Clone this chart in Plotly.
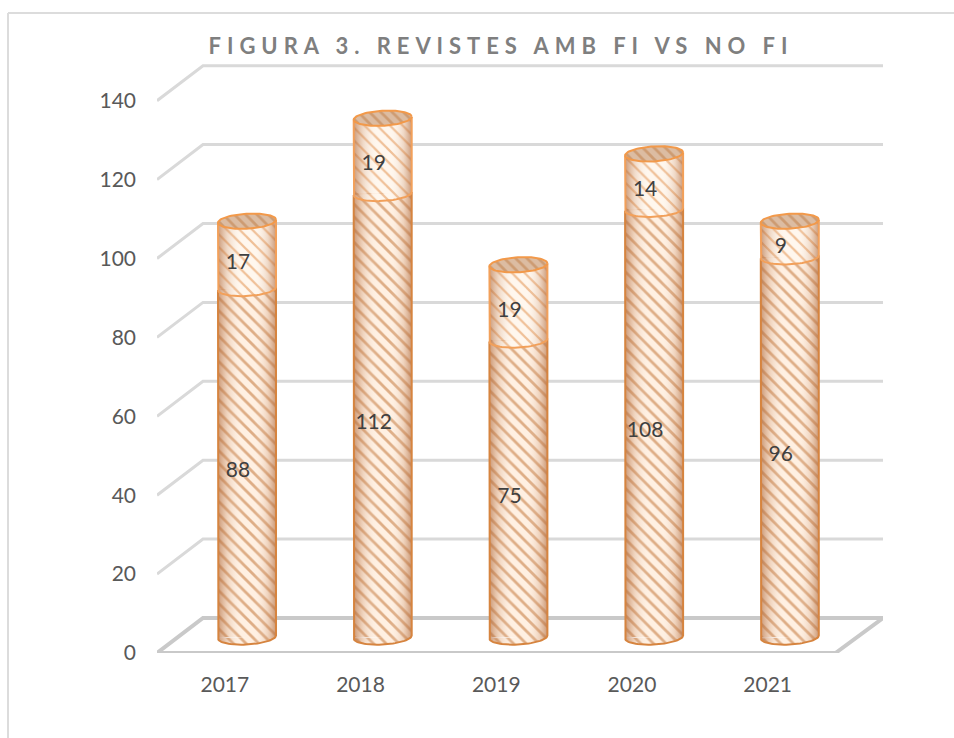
import numpy as np
import plotly.graph_objects as go

years = ["2017", "2018", "2019", "2020", "2021"]
amb_fi = [88, 112, 75, 108, 96]
no_fi = [17, 19, 19, 14, 9]
y_ticks = [0, 20, 40, 60, 80, 100, 120, 140]
title_text = "FIGURA 3. REVISTES AMB FI VS NO FI"

W, H = 954, 738
FONT = "Lato, 'Open Sans', sans-serif"
TXT = "#595959"
GRID = "#d9d9d9"
FLOOR = "#c9c9c9"

# geometry of the pseudo-3D box, in pixels
PX_L, PX_R = 157, 883       # horizontal extent of plot domain
PX_BOT, PX_TOP = 653, 58    # vertical extent of plot domain
X_STEP = 135.7
Y_SCALE = 3.945
BAR_Y_SCALE = 3.96
BACK_DX = 46 / X_STEP
BACK_DY = 35 / Y_SCALE
FRONT_R = 4.5
BAR_CX0, BAR_BASE_PX = 247, 637
BAR_W = 58 / X_STEP
RX = BAR_W / 2
RY = 7.5 / BAR_Y_SCALE
TILT = 1.5 / BAR_Y_SCALE
P_SIZE = 9

y_top = (PX_BOT - PX_TOP) / Y_SCALE
x_r_main = -0.5 + (PX_R - PX_L) / X_STEP
x2_l = (PX_L - BAR_CX0) / X_STEP
x2_r = (PX_R - BAR_CX0) / X_STEP
y2_l = -(PX_BOT - BAR_BASE_PX) / BAR_Y_SCALE
y2_t = y2_l + (PX_BOT - PX_TOP) / BAR_Y_SCALE

fig = go.Figure()

# walls and floor
for v in y_ticks[1:]:
    fig.add_trace(go.Scatter(
        x=[-0.5, -0.5 + BACK_DX, x_r_main], y=[v, v + BACK_DY, v + BACK_DY],
        mode="lines", line=dict(color=GRID, width=3), hoverinfo="skip", showlegend=False))
fig.add_trace(go.Scatter(
    x=[x_r_main, -0.5 + BACK_DX, -0.5, FRONT_R, x_r_main],
    y=[BACK_DY, BACK_DY, 0, 0, BACK_DY],
    mode="lines", line=dict(color=FLOOR, width=4), hoverinfo="skip", showlegend=False))

LOW_FG, LOW_BG, LOW_S = "#bd6a28", "#fff0e2", 0.31
UP_FG, UP_BG, UP_S = "#e0873e", "#fff7ee", 0.25

# cylinder bodies
fig.add_trace(go.Bar(
    x=list(range(5)), y=amb_fi, width=BAR_W, xaxis="x2", yaxis="y2", name="Amb FI",
    marker=dict(color=LOW_BG, line=dict(width=0),
                pattern=dict(shape="\\", fgcolor=LOW_FG, bgcolor=LOW_BG, size=P_SIZE, solidity=LOW_S)),
    showlegend=False))
fig.add_trace(go.Bar(
    x=list(range(5)), y=no_fi, width=BAR_W, xaxis="x2", yaxis="y2", name="No FI",
    marker=dict(color=UP_BG, line=dict(width=0),
                pattern=dict(shape="\\", fgcolor=UP_FG, bgcolor=UP_BG, size=P_SIZE, solidity=UP_S)),
    showlegend=False))

t_front = np.linspace(np.pi, 2 * np.pi, 40)
t_full = np.linspace(0, 2 * np.pi, 80)


def ring(cx, cy, t):
    return cx + RX * np.cos(t), cy + RY * np.sin(t) + TILT * np.cos(t)


def lens(i, v, fg, bg, sol):
    ax, ay = ring(i, v, t_front)
    fig.add_trace(go.Scatter(
        x=ax, y=ay, xaxis="x2", yaxis="y2", mode="lines", line=dict(width=0),
        fill="toself", fillcolor=bg, hoverinfo="skip", showlegend=False,
        fillpattern=dict(shape="\\", fgcolor=fg, bgcolor=bg, size=P_SIZE, solidity=sol)))


SHADE = [[0, "rgba(175,105,60,0.65)"], [0.16, "rgba(195,130,85,0.26)"], [0.42, "rgba(255,255,255,0)"],
         [0.62, "rgba(255,255,255,0)"], [0.86, "rgba(195,130,85,0.26)"], [1, "rgba(175,105,60,0.65)"]]

for i in range(5):
    low, total = amb_fi[i], amb_fi[i] + no_fi[i]
    lens(i, 0, LOW_FG, LOW_BG, LOW_S)
    lens(i, low, UP_FG, UP_BG, UP_S)
    # shading of the round body
    bx, by = ring(i, 0, t_front)
    tx, ty = ring(i, total, t_front[::-1])
    fig.add_trace(go.Scatter(
        x=np.r_[bx, tx], y=np.r_[by, ty], xaxis="x2", yaxis="y2", mode="lines", line=dict(width=0),
        fill="toself", hoverinfo="skip", showlegend=False,
        fillgradient=dict(type="horizontal", colorscale=SHADE)))
    # outline of lower part
    lx, ly = ring(i, low, t_front)
    fig.add_trace(go.Scatter(
        x=np.r_[lx[0], bx, lx[-1]], y=np.r_[ly[0], by, ly[-1]], xaxis="x2", yaxis="y2", mode="lines",
        line=dict(color="#d6843f", width=2), hoverinfo="skip", showlegend=False))
    # outline of upper part
    fig.add_trace(go.Scatter(
        x=np.r_[tx[-1], lx, tx[0]], y=np.r_[ty[-1], ly, ty[0]], xaxis="x2", yaxis="y2", mode="lines",
        line=dict(color="#f2a05a", width=2), hoverinfo="skip", showlegend=False))
    # top cap
    cx, cy = ring(i, total, t_full)
    fig.add_trace(go.Scatter(
        x=cx, y=cy, xaxis="x2", yaxis="y2", mode="lines", line=dict(color="#f2994a", width=2),
        fill="toself", fillcolor="#dcbca2", hoverinfo="skip", showlegend=False,
        fillpattern=dict(shape="\\", fgcolor="#bd7a42", bgcolor="#dcbca2", size=8, solidity=0.35)))

# value labels
LABEL_DX = -9 / X_STEP
LABEL_DY = -9 / BAR_Y_SCALE
lab_x, lab_y, lab_t = [], [], []
for i in range(5):
    lab_x += [i + LABEL_DX, i + LABEL_DX]
    lab_y += [amb_fi[i] / 2 + LABEL_DY, amb_fi[i] + no_fi[i] / 2 + LABEL_DY]
    lab_t += [str(amb_fi[i]), str(no_fi[i])]
fig.add_trace(go.Scatter(
    x=lab_x, y=lab_y, text=lab_t, xaxis="x2", yaxis="y2", mode="text",
    textposition="middle center", textfont=dict(family=FONT, size=21, color="#404040"),
    hoverinfo="skip", showlegend=False))

x_dom = [PX_L / W, PX_R / W]
y_dom = [1 - PX_BOT / H, 1 - PX_TOP / H]
fig.update_layout(
    width=W, height=H, margin=dict(l=0, r=0, t=0, b=0), autosize=False,
    paper_bgcolor="white", plot_bgcolor="rgba(0,0,0,0)", barmode="stack", showlegend=False,
    title=dict(text=title_text, x=501 / W, xanchor="center", y=1 - 46 / H, yanchor="middle",
               font=dict(family=FONT, size=22, color="#7f7f7f", weight="bold")),
    xaxis=dict(domain=x_dom, range=[-0.5, x_r_main], tickmode="array", tickvals=list(range(5)),
               ticktext=years, showgrid=False, zeroline=False, showline=False, ticks="", automargin=False,
               ticklabelstandoff=17, tickfont=dict(family=FONT, size=21, color=TXT), fixedrange=True),
    yaxis=dict(domain=y_dom, range=[0, y_top], tickmode="array", tickvals=y_ticks,
               showgrid=False, zeroline=False, showline=False, ticks="", automargin=False,
               ticklabelstandoff=20, tickfont=dict(family=FONT, size=21, color=TXT), fixedrange=True),
    xaxis2=dict(domain=x_dom, range=[x2_l, x2_r], overlaying="x", visible=False, fixedrange=True, anchor="y2"),
    yaxis2=dict(domain=y_dom, range=[y2_l, y2_t], overlaying="y", visible=False, fixedrange=True, anchor="x2"),
    shapes=[
        dict(type="line", xref="paper", yref="paper", x0=8 / W, x1=1, y0=1 - 13 / H, y1=1 - 13 / H,
             line=dict(color="#dcdcdc", width=2)),
        dict(type="line", xref="paper", yref="paper", x0=8 / W, x1=8 / W, y0=1 - 13 / H, y1=0,
             line=dict(color="#dcdcdc", width=2)),
    ],
)

fig.write_html(
    "out.html",
    config={"displayModeBar": False},
    post_script="document.body.style.margin='0';document.body.style.overflow='hidden';"
                "document.querySelectorAll('.gtitle').forEach(function(t){t.style.letterSpacing='5.95px';});",
)
